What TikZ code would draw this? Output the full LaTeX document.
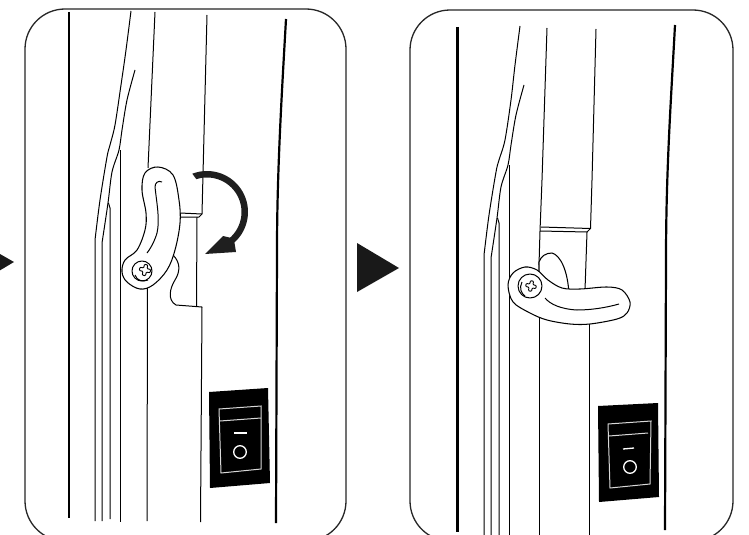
\documentclass[tikz,border=0pt]{standalone}
\tikzset{
  thinl/.style={draw=black,line width=1pt,line join=round},
  thickl/.style={draw=black,line width=2.2pt},
  framel/.style={draw=black!85,line width=1.3pt},
  handle/.style={draw=black,fill=white,line width=1.05pt},
  sw/.style={fill=black,draw=none},
  swl/.style={draw=white!85!black,line width=1pt},
  swc/.style={draw=white,line width=1.3pt},
  tri/.style={fill=black!90,draw=none},
  pics/crossmark/.style={code={
    \draw[line width=0.9pt,fill=white,rounded corners=0.9pt,rotate=-12]
      (-2,-6.5)--(2,-6.5)--(2,-2)--(6.5,-2)--(6.5,2)--(2,2)--(2,6.5)--(-2,6.5)--(-2,2)--(-6.5,2)--(-6.5,-2)--(-2,-2)--cycle;
  }}
}
\begin{document}
\begin{tikzpicture}[x=1pt,y=-1pt]
\useasboundingbox (0,0) rectangle (749,535);
\clip (0,0) rectangle (749,535);
\fill[white] (0,0) rectangle (749,535);
% ---------- arrows between panels
\fill[tri] (-28,238)--(14,262)--(-28,287)--cycle;
\fill[tri] (357,243)--(399,268)--(357,292)--cycle;
% ---------- LEFT PANEL
\draw[framel,rounded corners=40pt] (25,9) rectangle (346,541);
\draw[thickl] (69,12)--(69,518);
\draw[thickl] (286,19) .. controls (282,90) and (277,170) .. (277,250) -- (276,523);
\draw[thinl] plot[smooth,tension=0.5] coordinates {(131,11)(126,50)(121,85)(115,125)(110,145)(107,157)(100,200)(95,240)} -- (95,521);
\draw[thinl] plot[smooth,tension=0.5] coordinates {(135,70)(127,100)(122,130)(119,150)(112,172)(108,203)(102,243)} -- (102,521);
\draw[thinl] (108.5,203)--(110,208)--(110,519);
\draw[thinl] (120,150)--(120,522);
\draw[thinl] (155,12)--(148,168);
\draw[thinl] (147.5,285)--(147,521);
\draw[thinl] (207,15)--(202,214)--(199,217)--(180,217);
\draw[thinl] (180,213)--(202,214);
\draw[thinl] (197,217)--(196.5,306);
\draw[thinl] (173,255) .. controls (181,263) and (180,272) .. (175,280)
  .. controls (170,288) and (167,300) .. (176,305) -- (202,307)--(200.5,522);
\draw[handle] plot[smooth cycle,tension=0.6] coordinates {(158,167)(173,175)(179,200)(180,223)(175,250)(167,270)(153,285)(140,289)(127,282)(122,272)(125,260)(137,250)(145,230)(146,213)(142,190)(145,173)};
\draw[thinl] (162,182) .. controls (158,180) and (155,183) .. (155,187)
  .. controls (157,205) and (160,220) .. (157,233) .. controls (155,240) and (151,248) .. (147,253);
\draw[thinl] (142,271) circle (10);
\draw[thinl] (135,275) .. controls (137,281) and (143,282) .. (148,280);
\pic[scale=0.85] at (145,270) {crossmark};
% curved arrow
\fill[black!88] plot[domain=-111:48,samples=50] ({207+41*cos(\x)},{212+41*sin(\x)})
  -- (236,252) -- (205,254) -- (223,236)
  -- plot[domain=48:-108,samples=50] ({207+34.5*cos(\x)},{212+34.5*sin(\x)}) -- cycle;
% switch
\fill[sw] (209,392)--(268,388)--(270,483)--(210,488)--cycle;
\draw[swl] (219,409)--(261,406)--(261,469)--(221,473)--cycle;
\draw[swl] (220,421)--(261,418);
\draw[swc] (234,433)--(247,433);
\draw[swc] (240,452) circle (6.3);
% ---------- RIGHT PANEL
\draw[framel,rounded corners=40pt] (410,10) rectangle (733,541);
\draw[thickl] (457.5,27)--(457.5,532);
\draw[thickl] (675,25) .. controls (671,100) and (666,170) .. (666,260) -- (665,530);
\draw[thinl] plot[smooth,tension=0.5] coordinates {(520,26)(515,65)(511,100)(505,140)(499,160)(496,172)(489,215)(484,255)} -- (484,536);
\draw[thinl] plot[smooth,tension=0.5] coordinates {(524,85)(516,115)(511,145)(508,165)(501,187)(497,218)(491,258)} -- (491,536);
\draw[thinl] (497.5,218)--(499,223)--(499,536);
\draw[thinl] (509,165)--(509,536);
\draw[thinl] (547,28)--(542,180)--(540,231)--(539,265);
\draw[thinl] (539,315)--(539,536);
\draw[thinl] (596,29)--(592,180)--(590.5,228.5)--(587,232)--(540,231);
\draw[thinl] (541,227)--(590.5,228.5);
\draw[thinl] (587,232)--(585,290);
\draw[thinl] (589,320)--(589,536);
\draw[handle] (539,262) .. controls (541,256) and (546,253) .. (552,253)
  .. controls (560,255) and (568,270) .. (569,295) -- (539,280) -- cycle;
\draw[handle] plot[smooth cycle,tension=0.55] coordinates {(508,285)(513,273)(525,267)(537,270)(548,280)(562,288)(580,289)(607,287)(622,290)(630,302)(627,313)(617,319)(590,324)(570,324)(547,320)(530,313)(513,302)};
\draw[thinl] (545,298) .. controls (550,304) and (560,309) .. (577,310)
  .. controls (590,310) and (605,308) .. (619,304);
\draw[thinl] (530,286) circle (12);
\draw[thinl] (522,282) .. controls (519,288) and (521,293) .. (525,296);
\pic[scale=0.8] at (531,286) {crossmark};
% switch
\fill[sw] (598,406)--(658,403)--(659,497)--(599,502)--cycle;
\draw[swl] (608,424)--(651,421)--(650,484)--(610,488)--cycle;
\draw[swl] (609,436)--(648,433);
\draw[swc] (623,449)--(634,448);
\draw[swc] (630,467) circle (6.3);
\end{tikzpicture}
\end{document}
